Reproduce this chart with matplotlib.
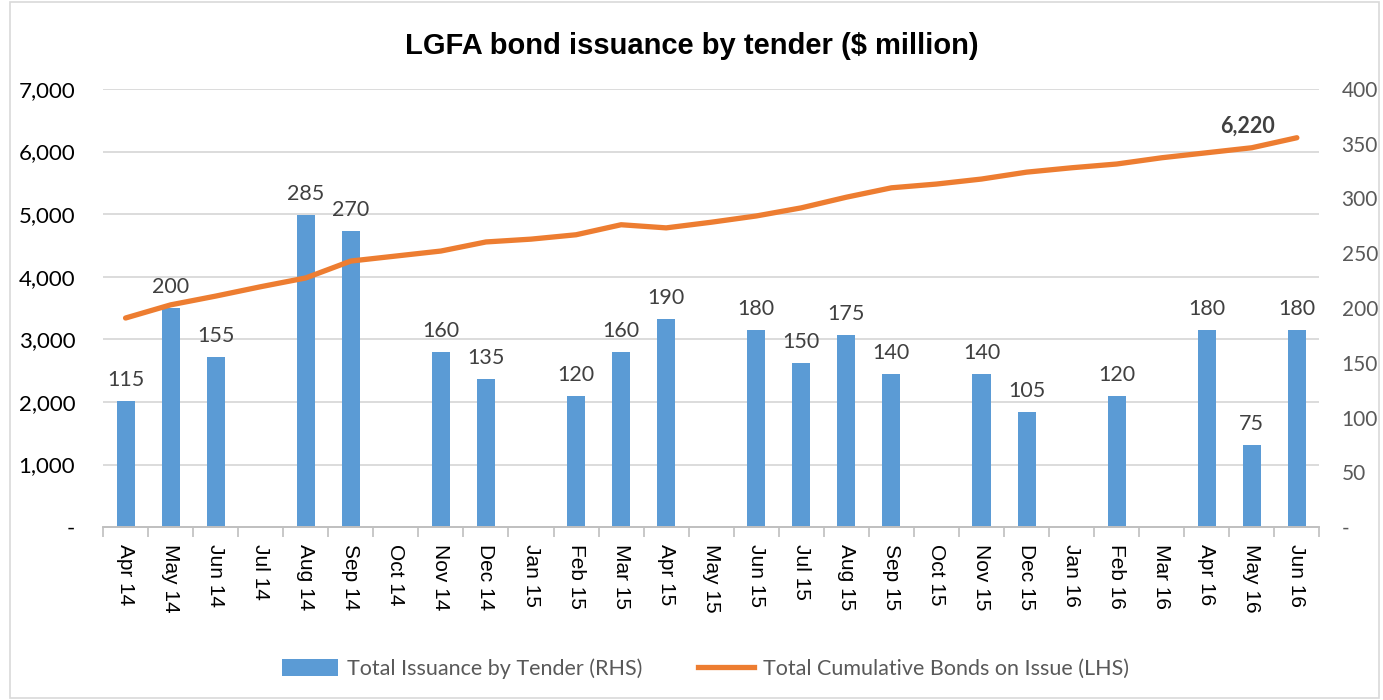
import matplotlib.pyplot as plt
from matplotlib.lines import Line2D
from matplotlib.patches import Patch, Rectangle
from matplotlib.ticker import FuncFormatter

BAR_BLUE = "#5B9BD5"
LINE_ORANGE = "#ED7D31"
GRID = "#D9D9D9"
AXIS = "#BFBFBF"
TEXT_DARK = "#000000"
TEXT_GREY = "#595959"

months = ["Apr 14", "May 14", "Jun 14", "Jul 14", "Aug 14", "Sep 14", "Oct 14",
          "Nov 14", "Dec 14", "Jan 15", "Feb 15", "Mar 15", "Apr 15", "May 15",
          "Jun 15", "Jul 15", "Aug 15", "Sep 15", "Oct 15", "Nov 15", "Dec 15",
          "Jan 16", "Feb 16", "Mar 16", "Apr 16", "May 16", "Jun 16"]
issuance = [115, 200, 155, 0, 285, 270, 0, 160, 135, 0, 120, 160, 190, 0,
            180, 150, 175, 140, 0, 140, 105, 0, 120, 0, 180, 75, 180]
cumulative = [3340, 3550, 3690, 3840, 3980, 4250, 4330, 4410, 4555, 4600, 4670,
              4830, 4780, 4870, 4970, 5100, 5270, 5420, 5480, 5560, 5670, 5740,
              5800, 5900, 5980, 6060, 6220]
left_ticks = [0, 1000, 2000, 3000, 4000, 5000, 6000, 7000]
right_ticks = [0, 50, 100, 150, 200, 250, 300, 350, 400]

ARIAL = "Liberation Sans"
CALIBRI = "Lato"

fig = plt.figure(figsize=(13.83, 7.0), dpi=100)
fig.patches.append(Rectangle((0.007, 0.003), 0.99, 0.994, transform=fig.transFigure,
                             fill=False, edgecolor="#D9D9D9", linewidth=1.2))

ax = fig.add_axes([0.0745, 0.247, 0.8795, 0.626])
ax2 = ax.twinx()
ax2.set_zorder(1)
ax.set_zorder(2)
ax.patch.set_visible(False)

x = list(range(len(months)))
lmax, rmax = left_ticks[-1], right_ticks[-1]

# gridlines follow the left axis but sit behind the bars on the right axis
for v in left_ticks[1:]:
    ax2.axhline(v / lmax * rmax, color=GRID, linewidth=1.3, zorder=0)

ax2.bar(x, issuance, width=0.4, color=BAR_BLUE, zorder=2)
for xi, v in zip(x, issuance):
    if v:
        ax2.annotate(f"{v}", (xi, v), xytext=(0, 8), textcoords="offset points",
                     ha="center", va="bottom", fontsize=15.5, family=CALIBRI,
                     color="#404040")

ax.plot(x, cumulative, color=LINE_ORANGE, linewidth=3.8, solid_capstyle="round", zorder=3)
ax.annotate(f"{cumulative[-1]:,}", (x[-1], cumulative[-1]), xytext=(-16, 1),
            textcoords="offset points", ha="right", va="bottom", fontsize=15.5,
            family=CALIBRI, fontweight="bold", color="#404040")

ax.set_xlim(-0.5, len(months) - 0.5)
ax.set_ylim(0, lmax)
ax2.set_ylim(0, rmax)

fmt = FuncFormatter(lambda v, _: "-" if v == 0 else f"{v:,.0f}")
ax.set_yticks(left_ticks)
ax.yaxis.set_major_formatter(fmt)
ax2.set_yticks(right_ticks)
ax2.yaxis.set_major_formatter(fmt)
ax.tick_params(axis="y", length=0, pad=20, labelsize=16, labelcolor=TEXT_DARK)
ax2.tick_params(axis="y", length=0, pad=16, labelsize=15, labelcolor=TEXT_GREY)
for lab in ax.get_yticklabels() + ax2.get_yticklabels():
    lab.set_family(CALIBRI)

ax.set_xticks(x)
ax.set_xticklabels(months, rotation=270, family=ARIAL, fontsize=15, color=TEXT_DARK)
ax.set_xticks([i - 0.5 for i in range(len(months) + 1)], minor=True)
ax.tick_params(axis="x", which="major", length=0, pad=12)
ax.tick_params(axis="x", which="minor", length=7, color=AXIS, width=1.2)

for a in (ax, ax2):
    for s in ("top", "left", "right"):
        a.spines[s].set_visible(False)
    a.spines["bottom"].set_color(AXIS)
    a.spines["bottom"].set_linewidth(1.2)

fig.text(0.5, 0.935, "LGFA bond issuance by tender ($ million)", ha="center",
         va="center", fontsize=21, fontweight="bold", family=ARIAL, color=TEXT_DARK)

handles = [Patch(facecolor=BAR_BLUE, edgecolor="none"),
           Line2D([], [], color=LINE_ORANGE, linewidth=3.8)]
fig.legend(handles, ["Total Issuance by Tender (RHS)", "Total Cumulative Bonds on Issue (LHS)"],
           loc="center", bbox_to_anchor=(0.51, 0.045), ncol=2, frameon=False,
           prop={"family": CALIBRI, "size": 15.5}, labelcolor="#595959",
           handlelength=2.6, handleheight=0.8, handletextpad=0.4, columnspacing=2.6)

fig.savefig("out.png", dpi=100)
